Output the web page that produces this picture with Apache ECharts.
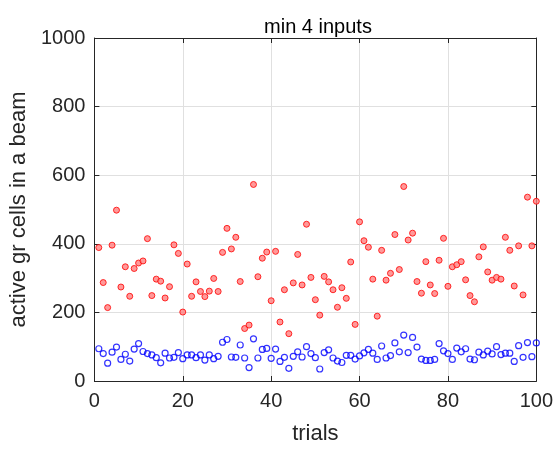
<!DOCTYPE html>
<html>
<head>
<meta charset="utf-8">
<title>min 4 inputs</title>
<script src="https://cdn.jsdelivr.net/npm/echarts@6/dist/echarts.min.js"></script>
<style>
  html, body { margin: 0; padding: 0; background: #fff; }
  #chart { width: 556px; height: 450px; }
</style>
</head>
<body>
<div id="chart"></div>
<script>
// trial numbers 1..100
const trials = [];
for (let i = 1; i <= 100; i++) trials.push(i);

// red points (filled)
const redValues = [
  389, 287, 214, 396, 498, 274, 333, 247, 328, 344,
  350, 415, 249, 297, 291, 242, 275, 397, 372, 201,
  341, 247, 289, 261, 246, 262, 299, 261, 375, 445,
  385, 419, 290, 153, 163, 573, 304, 358, 376, 234,
  378, 172, 266, 138, 286, 369, 280, 457, 302, 237,
  192, 305, 289, 266, 215, 272, 241, 347, 165, 464,
  409, 390, 297, 189, 381, 294, 314, 427, 325, 567,
  411, 431, 290, 256, 348, 280, 255, 352, 416, 276,
  333, 339, 348, 295, 249, 231, 362, 391, 318, 294,
  302, 297, 419, 381, 277, 394, 251, 536, 394, 524
];

// blue points (hollow)
const blueValues = [
  94, 80, 52, 84, 99, 63, 78, 58, 93, 109,
  86, 80, 76, 68, 53, 81, 67, 69, 83, 65,
  76, 76, 68, 76, 61, 76, 65, 72, 113, 121,
  70, 69, 105, 67, 39, 123, 67, 92, 95, 66,
  93, 57, 69, 37, 72, 85, 70, 100, 80, 68,
  35, 83, 91, 67, 58, 54, 75, 75, 64, 73,
  82, 92, 81, 63, 102, 67, 74, 111, 85, 134,
  83, 127, 99, 64, 60, 60, 63, 109, 88, 80,
  63, 96, 85, 94, 64, 62, 84, 76, 87, 79,
  100, 77, 81, 81, 57, 103, 69, 112, 71, 111
];

const xTicks = [0, 20, 40, 60, 80, 100];
const yTicks = [0, 200, 400, 600, 800, 1000];

const textColor = '#262626';
const fontFamily = '"Liberation Sans", Arial, sans-serif';

const chart = echarts.init(document.getElementById('chart'));

// shared axis look (MATLAB style box with inward ticks)
const axisLine = { show: true, onZero: false, lineStyle: { color: textColor, width: 1 } };
const axisTick = { show: true, inside: true, length: 5, lineStyle: { color: textColor } };

const option = {
  animation: false,
  backgroundColor: '#fff',
  textStyle: { fontFamily: fontFamily },
  title: {
    text: 'min 4 inputs',
    left: 313,
    top: 12,
    textAlign: 'center',
    textStyle: { fontSize: 20, fontWeight: 'normal', color: '#000', fontFamily: fontFamily }
  },
  grid: { left: 90, right: 19, top: 38, bottom: 67 },
  xAxis: [{
    type: 'value',
    min: xTicks[0],
    max: xTicks[xTicks.length - 1],
    interval: 20,
    name: 'trials',
    nameLocation: 'middle',
    nameGap: 42,
    nameTextStyle: { fontSize: 22, color: textColor, fontFamily: fontFamily },
    axisLine: axisLine,
    axisTick: axisTick,
    axisLabel: { fontSize: 20, color: textColor, margin: 10, fontFamily: fontFamily },
    splitLine: { show: true, lineStyle: { color: '#e0e0e0', width: 1 } }
  }, {
    type: 'value',
    position: 'top',
    min: xTicks[0],
    max: xTicks[xTicks.length - 1],
    interval: 20,
    axisLine: axisLine,
    axisTick: axisTick,
    axisLabel: { show: false },
    splitLine: { show: false }
  }],
  yAxis: [{
    type: 'value',
    min: yTicks[0],
    max: yTicks[yTicks.length - 1],
    interval: 200,
    name: 'active gr cells in a beam',
    nameLocation: 'middle',
    nameGap: 55,
    nameTextStyle: { fontSize: 22, color: textColor, fontFamily: fontFamily },
    axisLine: axisLine,
    axisTick: axisTick,
    axisLabel: {
      fontSize: 20, color: textColor, margin: 9, fontFamily: fontFamily,
      formatter: v => String(v)
    },
    splitLine: { show: true, lineStyle: { color: '#e0e0e0', width: 1 } }
  }, {
    type: 'value',
    position: 'right',
    min: yTicks[0],
    max: yTicks[yTicks.length - 1],
    interval: 200,
    axisLine: axisLine,
    axisTick: axisTick,
    axisLabel: { show: false },
    splitLine: { show: false }
  }],
  series: [{
    name: 'red',
    type: 'scatter',
    symbol: 'circle',
    symbolSize: 6,
    data: trials.map((t, i) => [t, redValues[i]]),
    itemStyle: { color: '#ff8080', borderColor: '#ff0000', borderWidth: 1 }
  }, {
    name: 'blue',
    type: 'scatter',
    symbol: 'circle',
    symbolSize: 6,
    data: trials.map((t, i) => [t, blueValues[i]]),
    itemStyle: { color: 'rgba(255,255,255,0)', borderColor: '#0000ff', borderWidth: 1.2 }
  }]
};

chart.setOption(option);
</script>
</body>
</html>
